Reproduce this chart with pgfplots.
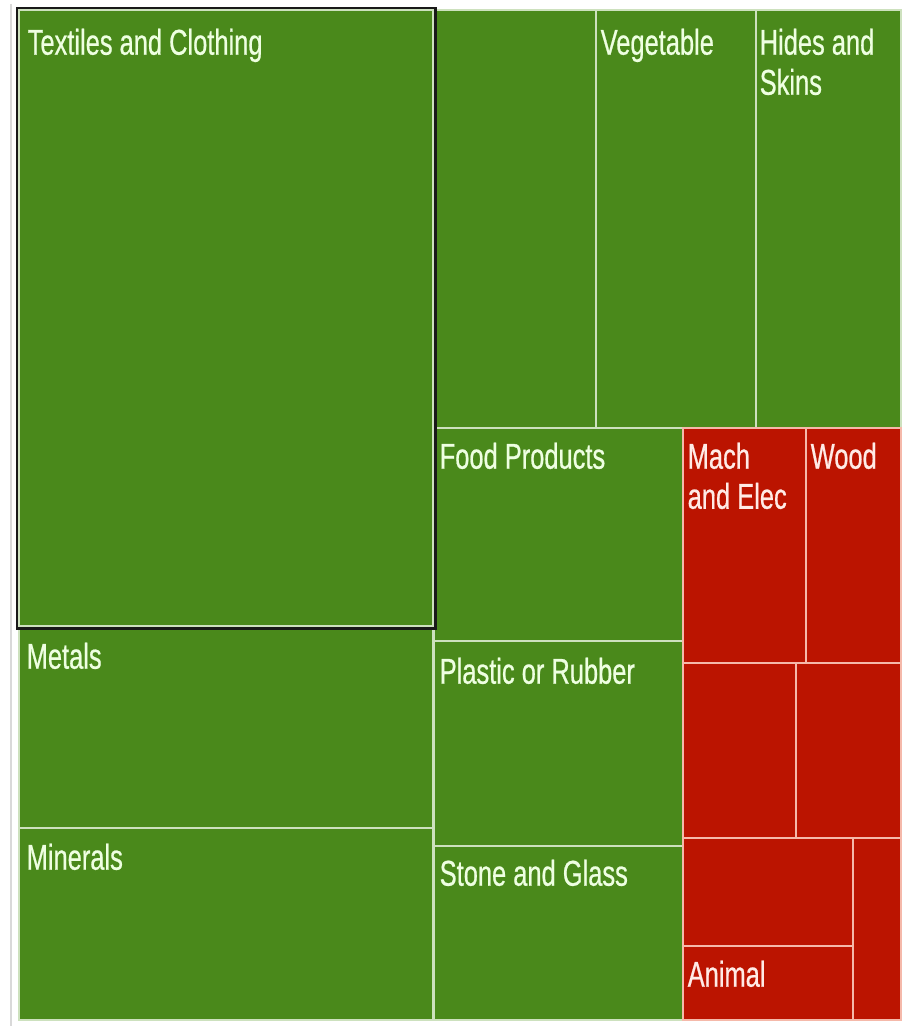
\documentclass[border=0pt]{standalone}
\usepackage{pgfplots}
\pgfplotsset{compat=1.18}
\usepackage{fontspec}
\setmainfont{Liberation Sans}
\newfontfamily\narrowfont[FakeStretch=0.71, FakeBold=0.6]{Liberation Sans}

\definecolor{tgreen}{RGB}{74,137,27}
\definecolor{tred}{RGB}{187,20,0}
\definecolor{gline}{RGB}{205,225,190}
\definecolor{rline}{RGB}{245,185,170}
\definecolor{gtext}{RGB}{238,255,225}
\definecolor{rtext}{RGB}{255,235,230}

\tikzset{
  lab/.style={anchor=north west, inner sep=0pt, align=left,
    font=\narrowfont\fontsize{10.2}{11.4}\selectfont},
}

\begin{document}
\begin{tikzpicture}
\begin{axis}[
  width=9.08cm, height=10.31cm, scale only axis,
  xmin=0, xmax=908, ymin=0, ymax=1031, y dir=reverse,
  hide axis, clip=false,
]
% page background
\addplot[fill=white, draw=none] coordinates {(0,0) (908,0) (908,1031) (0,1031)} -- cycle;
% faint outer frame
\addplot[draw=black!15, line width=0.5pt] coordinates {(11,4) (11,1026)};
\addplot[draw=black!25, line width=0.4pt] coordinates {(901,10) (901,1021)};

% green tiles: x1 y1 x2 y2
\addplot[fill=tgreen, draw=gline, line width=0.45pt] coordinates {(19,628) (433,628) (433,828) (19,828)} -- cycle; % Metals
\addplot[fill=tgreen, draw=gline, line width=0.45pt] coordinates {(19,828) (433,828) (433,1020) (19,1020)} -- cycle; % Minerals
\addplot[fill=tgreen, draw=gline, line width=0.45pt] coordinates {(434,10) (596,10) (596,428) (434,428)} -- cycle; % unlabeled
\addplot[fill=tgreen, draw=gline, line width=0.45pt] coordinates {(596,10) (756,10) (756,428) (596,428)} -- cycle; % Vegetable
\addplot[fill=tgreen, draw=gline, line width=0.45pt] coordinates {(756,10) (901,10) (901,428) (756,428)} -- cycle; % Hides and Skins
\addplot[fill=tgreen, draw=gline, line width=0.45pt] coordinates {(434,428) (683,428) (683,641) (434,641)} -- cycle; % Food Products
\addplot[fill=tgreen, draw=gline, line width=0.45pt] coordinates {(434,641) (683,641) (683,846) (434,846)} -- cycle; % Plastic or Rubber
\addplot[fill=tgreen, draw=gline, line width=0.45pt] coordinates {(434,846) (683,846) (683,1020) (434,1020)} -- cycle; % Stone and Glass

% red tiles
\addplot[fill=tred, draw=rline, line width=0.45pt] coordinates {(683,428) (806,428) (806,663) (683,663)} -- cycle; % Mach and Elec
\addplot[fill=tred, draw=rline, line width=0.45pt] coordinates {(806,428) (901,428) (901,663) (806,663)} -- cycle; % Wood
\addplot[fill=tred, draw=rline, line width=0.45pt] coordinates {(683,663) (796,663) (796,838) (683,838)} -- cycle;
\addplot[fill=tred, draw=rline, line width=0.45pt] coordinates {(796,663) (901,663) (901,838) (796,838)} -- cycle;
\addplot[fill=tred, draw=rline, line width=0.45pt] coordinates {(683,838) (853,838) (853,946) (683,946)} -- cycle;
\addplot[fill=tred, draw=rline, line width=0.45pt] coordinates {(683,946) (853,946) (853,1020) (683,1020)} -- cycle; % Animal
\addplot[fill=tred, draw=rline, line width=0.45pt] coordinates {(853,838) (901,838) (901,1020) (853,1020)} -- cycle;

% Textiles and Clothing (highlighted)
\addplot[fill=tgreen, draw=gline, line width=0.45pt] coordinates {(19,10) (433,10) (433,626) (19,626)} -- cycle;
\addplot[draw=black!90, line width=0.85pt] coordinates {(17,8) (435,8) (435,628) (17,628)} -- cycle;

% labels
\node[lab, text=gtext] at (axis cs:27,28) {Textiles and Clothing};
\node[lab, text=gtext] at (axis cs:600,28) {Vegetable};
\node[lab, text=gtext] at (axis cs:759,28) {Hides and\\Skins};
\node[lab, text=gtext] at (axis cs:439,442) {Food Products};
\node[lab, text=rtext] at (axis cs:687,442) {Mach\\and Elec};
\node[lab, text=rtext] at (axis cs:810,442) {Wood};
\node[lab, text=gtext] at (axis cs:26,642) {Metals};
\node[lab, text=gtext] at (axis cs:439,657) {Plastic or Rubber};
\node[lab, text=gtext] at (axis cs:26,843) {Minerals};
\node[lab, text=gtext] at (axis cs:439,859) {Stone and Glass};
\node[lab, text=rtext] at (axis cs:687,960) {Animal};
\end{axis}
\end{tikzpicture}
\end{document}
